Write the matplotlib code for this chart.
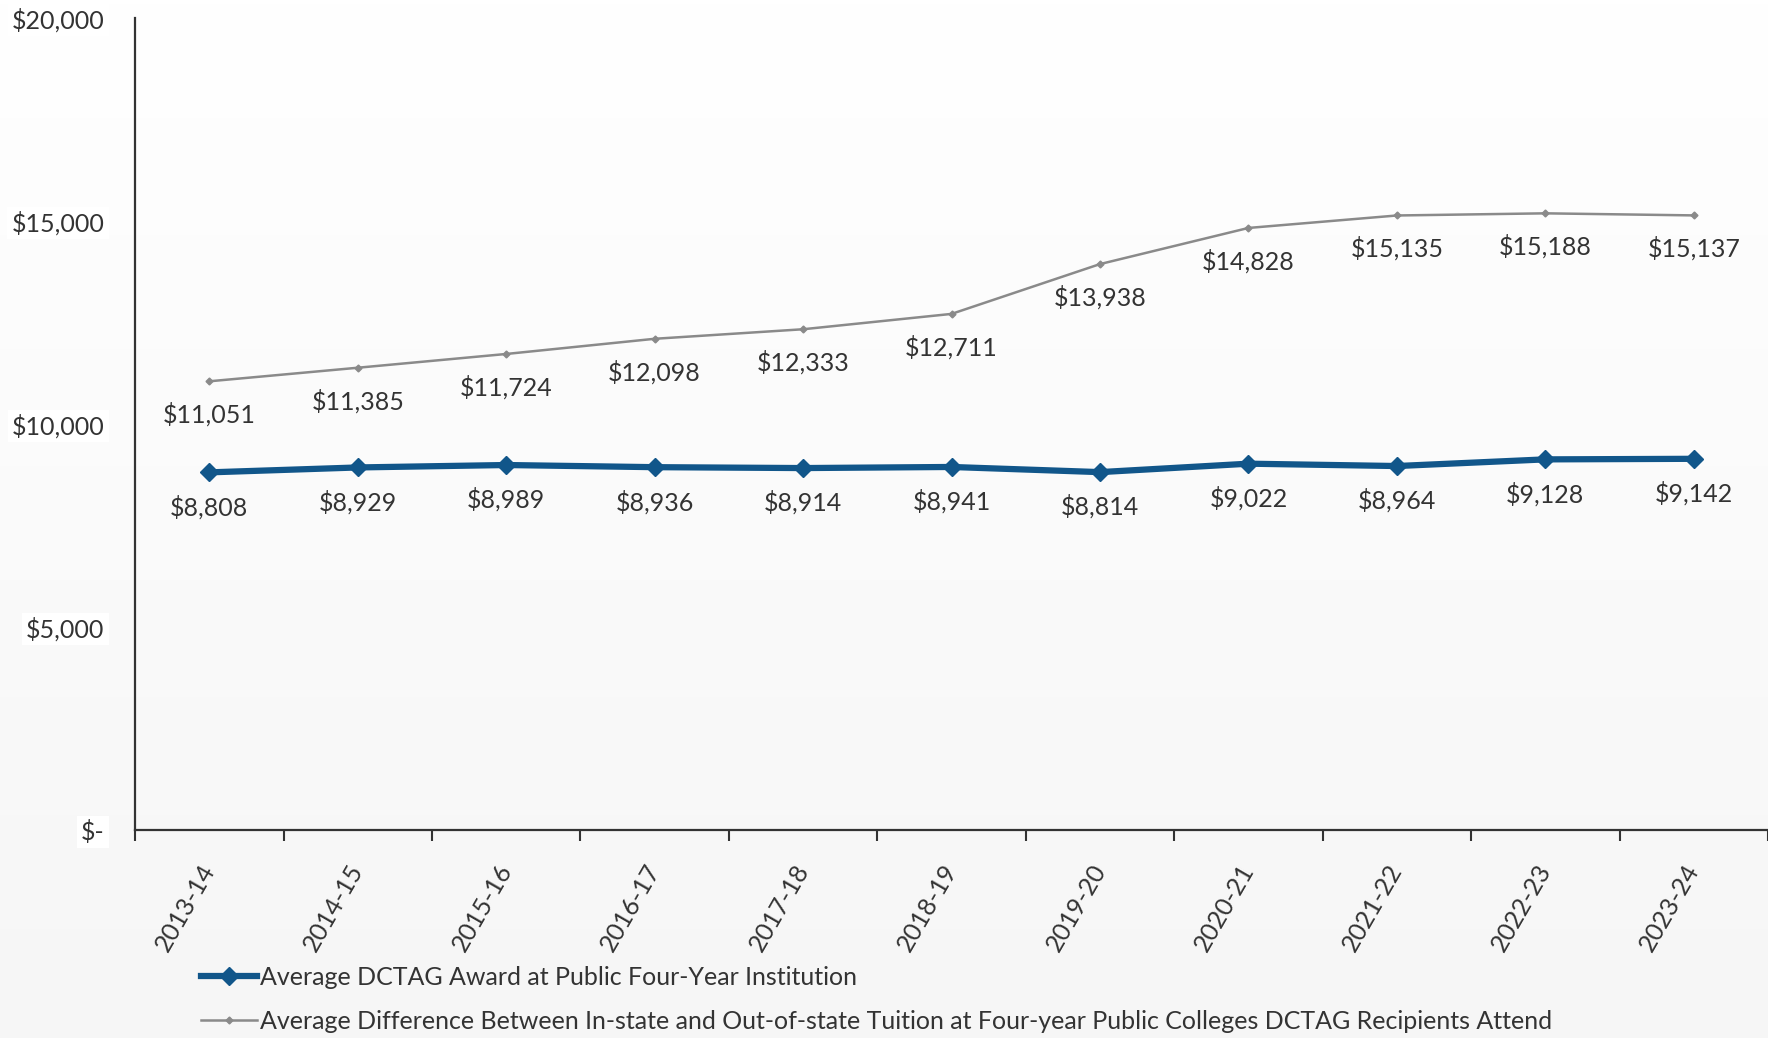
import numpy as np
import matplotlib.pyplot as plt
from matplotlib.ticker import FuncFormatter

plt.rcParams['font.family'] = ['Lato', 'DejaVu Sans']

# Chart data
years = ['2013-14', '2014-15', '2015-16', '2016-17', '2017-18', '2018-19',
         '2019-20', '2020-21', '2021-22', '2022-23', '2023-24']
award = [8808, 8929, 8989, 8936, 8914, 8941, 8814, 9022, 8964, 9128, 9142]
tuition_diff = [11051, 11385, 11724, 12098, 12333, 12711, 13938, 14828, 15135, 15188, 15137]
award_label = 'Average DCTAG Award at Public Four-Year Institution'
diff_label = ('Average Difference Between In-state and Out-of-state Tuition at '
              'Four-year Public Colleges DCTAG Recipients Attend')

text_color = '#333333'
blue = '#11568a'
gray = '#8a8a8a'
fs = 18

fig = plt.figure(figsize=(17.68, 10.38), dpi=100)

# soft vertical gradient in the background
bg = fig.add_axes([0, 0, 1, 1], zorder=-10)
grad = np.linspace(1.0, 0.965, 256).reshape(-1, 1)
bg.imshow(np.dstack([grad, grad, grad]), aspect='auto', extent=[0, 1, 0, 1])
bg.axis('off')

ax = fig.add_axes([0.0764, 0.2004, 0.9236, 0.7823])
ax.patch.set_alpha(0)

x = np.arange(len(years))
award_line, = ax.plot(x, award, color=blue, lw=4.5, marker='D', ms=9, label=award_label)
diff_line, = ax.plot(x, tuition_diff, color=gray, lw=1.8, marker='D', ms=3.5, label=diff_label)

# data labels under each point
for xi, v in zip(x, tuition_diff):
    ax.annotate('${:,}'.format(v), (xi, v), xytext=(0, -24), textcoords='offset points',
                ha='center', va='center', fontsize=fs, color=text_color)
for xi, v in zip(x, award):
    ax.annotate('${:,}'.format(v), (xi, v), xytext=(0, -25), textcoords='offset points',
                ha='center', va='center', fontsize=fs, color=text_color)

ax.set_xlim(-0.5, len(years) - 0.5)
ax.set_ylim(0, 20000)
ax.set_yticks([0, 5000, 10000, 15000, 20000])
ax.yaxis.set_major_formatter(FuncFormatter(lambda v, p: '$-' if v == 0 else '${:,.0f}'.format(v)))
ax.tick_params(axis='y', length=0, pad=22, labelsize=fs, labelcolor=text_color)
for lab in ax.get_yticklabels():
    lab.set_bbox(dict(facecolor='white', edgecolor='none', pad=3))

ax.set_xticks(x)
ax.set_xticklabels(years, rotation=60, ha='right', va='center', rotation_mode='anchor')
ax.set_xticks(np.arange(len(years) + 1) - 0.5, minor=True)
ax.tick_params(axis='x', which='major', length=0, pad=26, labelsize=fs, labelcolor=text_color)
ax.tick_params(axis='x', which='minor', length=8, width=1.5, color='#333333')

for s in ['top', 'right']:
    ax.spines[s].set_visible(False)
for s in ['left', 'bottom']:
    ax.spines[s].set_color('#333333')
    ax.spines[s].set_linewidth(1.6)

fig.legend([award_line, diff_line], [award_label, diff_label], loc='upper left',
           bbox_to_anchor=(0.108, 0.079), frameon=False, fontsize=fs, handlelength=2.25,
           handletextpad=0.1, labelspacing=0.85, labelcolor=text_color, borderaxespad=0)

fig.savefig('out.png', dpi=100)
